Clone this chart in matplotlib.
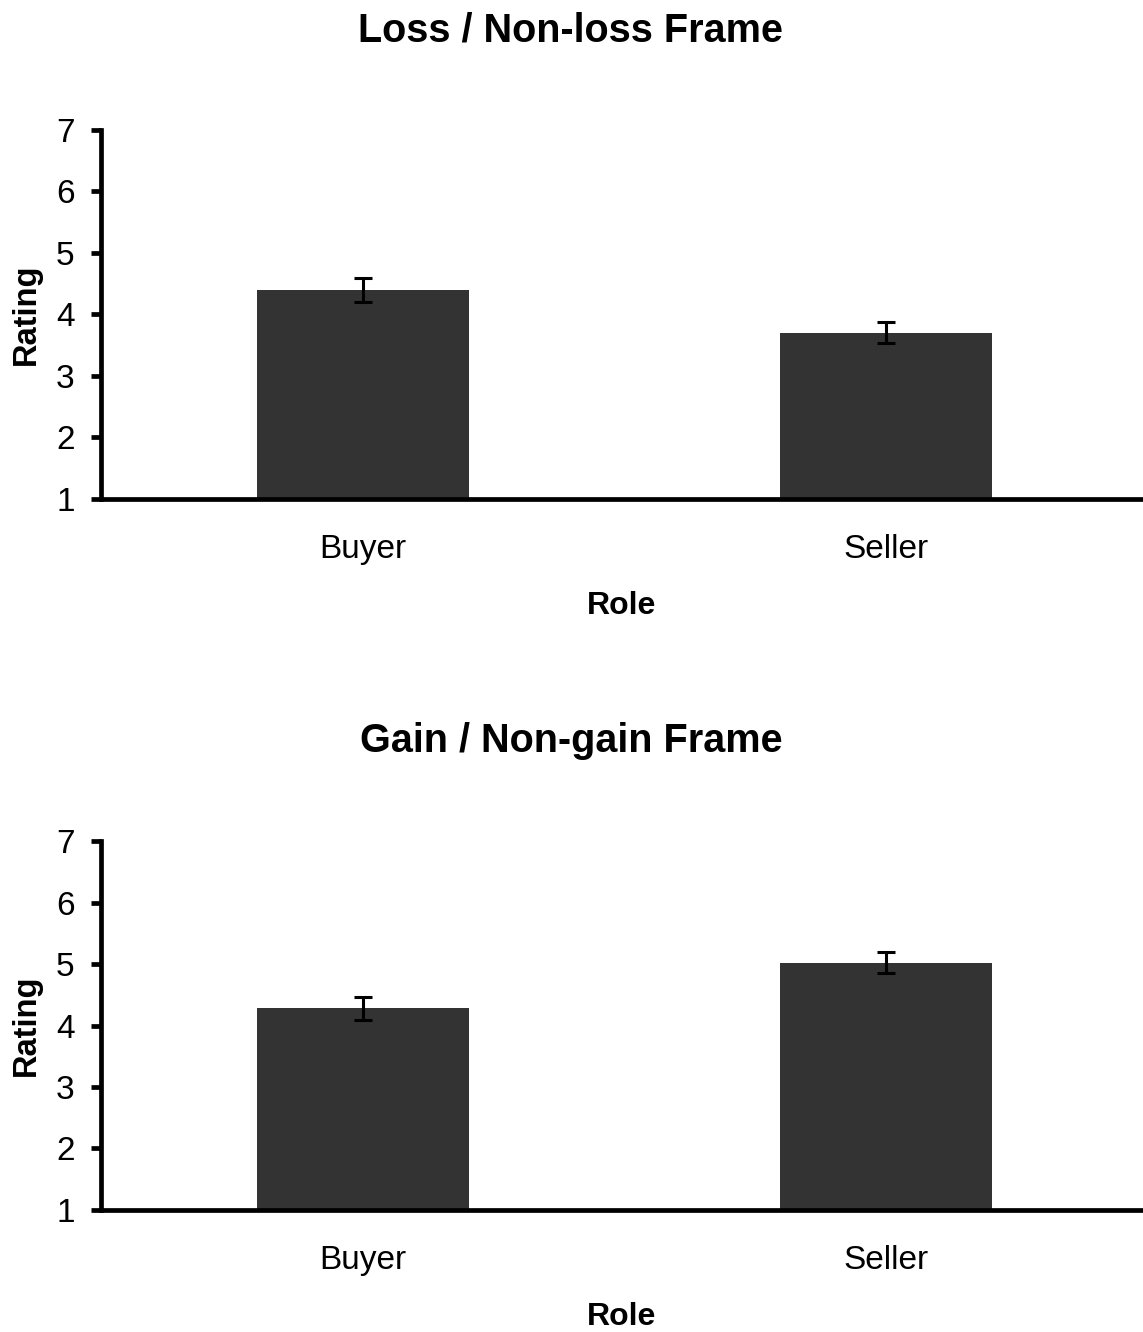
import matplotlib.pyplot as plt

plt.rcParams['font.family'] = ['Liberation Sans', 'DejaVu Sans']

roles = ['Buyer', 'Seller']
titles = ['Loss / Non-loss Frame', 'Gain / Non-gain Frame']
# mean ratings and standard errors
loss_means = [4.40, 3.70]
loss_err = [0.20, 0.17]
gain_means = [4.28, 5.02]
gain_err = [0.19, 0.17]
y_ticks = [1, 2, 3, 4, 5, 6, 7]

fig = plt.figure(figsize=(11.43, 13.32), dpi=100)
ax_top = fig.add_axes([0.0884, 0.6254, 0.9116, 0.277])
ax_bot = fig.add_axes([0.0884, 0.0916, 0.9116, 0.277])

for ax, title, means, errs in [(ax_top, titles[0], loss_means, loss_err),
                               (ax_bot, titles[1], gain_means, gain_err)]:
    x = range(len(roles))
    heights = [m - 1 for m in means]
    ax.bar(x, heights, bottom=1, width=0.405, color='#333333', zorder=2)
    ax.errorbar(x, means, yerr=errs, fmt='none', ecolor='black',
                elinewidth=2.2, capsize=6.8, capthick=2.2, zorder=3)
    ax.set_xlim(-0.5, 1.49)
    ax.set_ylim(1, 7)
    ax.set_yticks(y_ticks)
    ax.set_xticks(list(x))
    ax.set_xticklabels(roles, fontsize=24)
    ax.tick_params(axis='x', length=0, pad=25)
    ax.tick_params(axis='y', length=7, width=3.4, labelsize=24, pad=12)
    for s in ['top', 'right']:
        ax.spines[s].set_visible(False)
    for s in ['left', 'bottom']:
        ax.spines[s].set_linewidth(3.4)
    ax.set_xlabel('Role', fontsize=23, fontweight='bold', labelpad=19)
    ax.set_ylabel('Rating', fontsize=23.5, fontweight='bold', labelpad=10)
    ax.set_title(title, fontsize=28.5, fontweight='bold', pad=64, x=0.451)

fig.savefig('out.png', dpi=100)
